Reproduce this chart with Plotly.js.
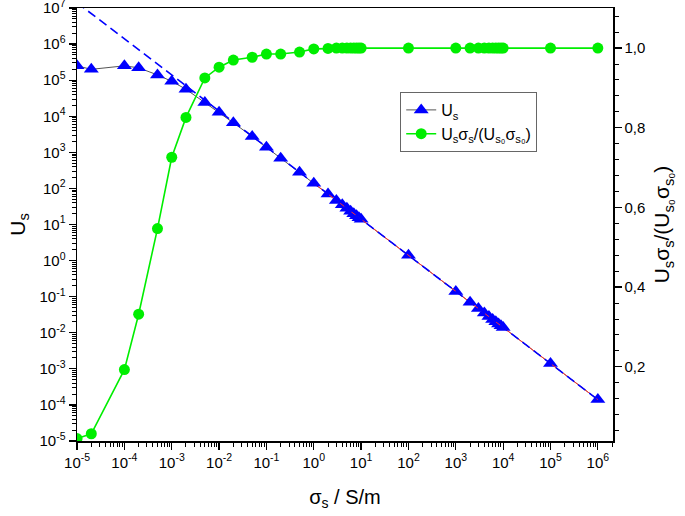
<!DOCTYPE html>
<html>
<head>
<meta charset="utf-8">
<script src="https://cdn.plot.ly/plotly-3.0.1.min.js"></script>
<style>html,body{margin:0;padding:0;background:#fff}#plot{width:685px;height:516px}</style>
</head>
<body>
<div id="plot"></div>
<script>
// conductivity sigma_s (S/m)
const sigma = [1e-5,2e-5,1e-4,2e-4,5e-4,1e-3,2e-3,5e-3,1e-2,2e-2,5e-2,0.1,0.2,0.5,1,2,3,4,5,6,7,8,9,10,100,1000,2000,3000,4000,5000,6000,7000,8000,9000,10000,1e5,1e6];
// U_s (left axis)
const Us = [2.5e5,2.0e5,2.5e5,2.2e5,1.4e5,9.3e4,5.6e4,2.4e4,1.3e4,6.6e3,2.75e3,1.38e3,6.9e2,2.8e2,1.4e2,70,46.5,35,28,23.3,20,17.5,15.5,14,1.4,0.14,0.07,0.0467,0.035,0.028,0.0233,0.02,0.0175,0.0155,0.014,1.4e-3,1.4e-4];
// normalised product (right axis)
const ratio = [0.020,0.032,0.193,0.332,0.547,0.726,0.826,0.925,0.952,0.970,0.977,0.985,0.985,0.990,0.998,0.999,1.0,1.0,1.0,1.0,1.0,1.0,1.0,1.0,1.0,1.0,1.0,1.0,1.0,1.0,1.0,1.0,1.0,1.0,1.0,1.0,1.0];
// 1/sigma fit lines
const fitBlueX = [1e-5, 1e6];
const fitBlueY = [1.4e7, 1.4e-4];
const fitRedX = [1, 1e6];
const fitRedY = [140, 1.4e-4];
// tick labels
const xTickVals = [1e-5,1e-4,1e-3,1e-2,1e-1,1e0,1e1,1e2,1e3,1e4,1e5,1e6];
const xTickText = ['10<sup>-5</sup>','10<sup>-4</sup>','10<sup>-3</sup>','10<sup>-2</sup>','10<sup>-1</sup>','10<sup>0</sup>','10<sup>1</sup>','10<sup>2</sup>','10<sup>3</sup>','10<sup>4</sup>','10<sup>5</sup>','10<sup>6</sup>'];
const yTickVals = [1e-5,1e-4,1e-3,1e-2,1e-1,1e0,1e1,1e2,1e3,1e4,1e5,1e6,1e7];
const yTickText = ['10<sup>-5</sup>','10<sup>-4</sup>','10<sup>-3</sup>','10<sup>-2</sup>','10<sup>-1</sup>','10<sup>0</sup>','10<sup>1</sup>','10<sup>2</sup>','10<sup>3</sup>','10<sup>4</sup>','10<sup>5</sup>','10<sup>6</sup>','10<sup>7</sup>'];
const y2TickVals = [0.2,0.4,0.6,0.8,1.0];
const y2TickText = ['0,2','0,4','0,6','0,8','1,0'];

const FONT = 'Liberation Sans, Arial, sans-serif';

const traces = [
  {x: sigma, y: Us, type:'scatter', mode:'lines+markers', name:'U<sub>s</sub>',
   line:{color:'#555555', width:1},
   marker:{symbol:'triangle-up', size:13, color:'#0000ff', line:{width:0}}},
  {x: fitRedX, y: fitRedY, type:'scatter', mode:'lines', showlegend:false,
   line:{color:'#ff3030', width:1}, hoverinfo:'skip'},
  {x: fitBlueX, y: fitBlueY, type:'scatter', mode:'lines', showlegend:false,
   line:{color:'#0000ff', width:1.6, dash:'9px,5px'}, hoverinfo:'skip'},
  {x: sigma, y: ratio, type:'scatter', mode:'lines+markers', yaxis:'y2',
   name:'U<sub>s</sub>σ<sub>s</sub>/(U<sub>s₀</sub>σ<sub>s₀</sub>)',
   line:{color:'#00ee00', width:1.6},
   marker:{symbol:'circle', size:11, color:'#00ee00', line:{width:0}}}
];

const layout = {
  width:685, height:516,
  margin:{l:77, r:72, t:8, b:75},
  paper_bgcolor:'#fff', plot_bgcolor:'#fff',
  font:{family:FONT, size:14, color:'#000'},
  showlegend:true,
  legend:{x:0.603, y:0.806, xanchor:'left', yanchor:'top',
    bgcolor:'#fff', bordercolor:'#666', borderwidth:1,
    font:{family:FONT, size:16}, tracegroupgap:0, itemwidth:30},
  xaxis:{type:'log', range:[-5.001, 6.32], showgrid:false, zeroline:false,
    showline:true, linecolor:'#000', linewidth:1.5, mirror:true,
    ticks:'outside', ticklen:7, tickwidth:1.3, tickcolor:'#000',
    tickmode:'array', tickvals:xTickVals, ticktext:xTickText,
    tickfont:{family:FONT, size:15}, ticklabeloverflow:'allow',
    minor:{ticks:'outside', ticklen:4, tickwidth:1, tickcolor:'#000', dtick:'D1'},
    title:{text:'σ<sub>s</sub> / S/m', font:{family:FONT, size:20}, standoff:20}},
  yaxis:{type:'log', range:[-5.001, 7.001], showgrid:false, zeroline:false,
    showline:true, linecolor:'#000', linewidth:1.5,
    ticks:'outside', ticklen:7, tickwidth:1.3, tickcolor:'#000',
    tickmode:'array', tickvals:yTickVals, ticktext:yTickText,
    tickfont:{family:FONT, size:15}, ticklabeloverflow:'allow',
    minor:{ticks:'outside', ticklen:4, tickwidth:1, tickcolor:'#000', dtick:'D1'},
    title:{text:'U<sub>s</sub>', font:{family:FONT, size:21}, standoff:8}},
  yaxis2:{overlaying:'y', side:'right', range:[0.0138, 1.1006], showgrid:false, zeroline:false,
    showline:true, linecolor:'#000', linewidth:1.5,
    ticks:'outside', ticklen:7, tickwidth:1.3, tickcolor:'#000',
    tickmode:'array', tickvals:y2TickVals, ticktext:y2TickText,
    tickfont:{family:FONT, size:15},
    minor:{ticks:'outside', ticklen:4, tickwidth:1, tickcolor:'#000', dtick:0.04, tick0:0},
    title:{text:'U<sub>s</sub>σ<sub>s</sub>/(U<sub>s₀</sub>σ<sub>s₀</sub>)', font:{family:FONT, size:21}, standoff:10}}
};

Plotly.newPlot('plot', traces, layout, {displayModeBar:false, staticPlot:true});
</script>
</body>
</html>
